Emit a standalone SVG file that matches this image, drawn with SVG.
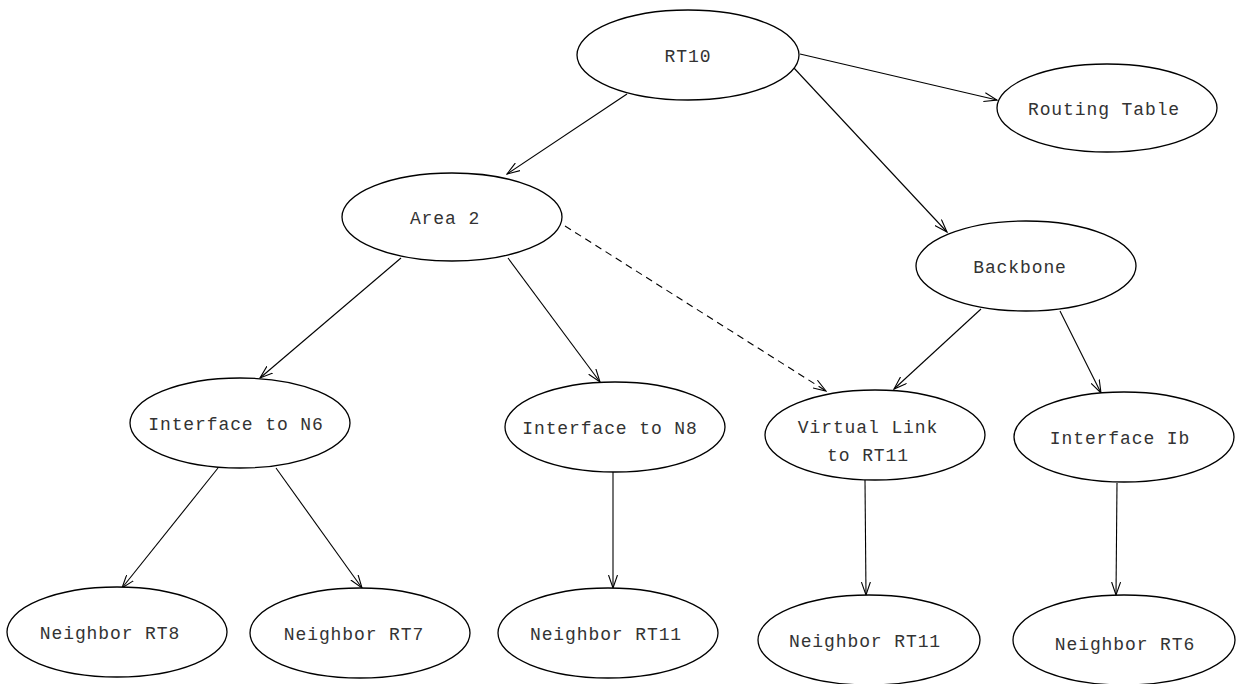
<svg xmlns="http://www.w3.org/2000/svg" width="1236" height="684" viewBox="0 0 1236 684">
<style>
.n ellipse{fill:#fff;stroke:#000;stroke-width:1.3}
.n text{font-family:"Liberation Mono","Courier New",monospace;font-size:18px;letter-spacing:0.9px;fill:#333;text-anchor:middle}
.e line{stroke:#000;stroke-width:1.1;fill:none;marker-end:url(#a)}
.e .d{stroke-dasharray:7,5}
</style>
<defs>
<marker id="a" markerWidth="14" markerHeight="10" refX="13" refY="5" orient="auto" markerUnits="userSpaceOnUse">
<path d="M0,0.5 L13,5 L0,9.5" fill="none" stroke="#000" stroke-width="1.1"/>
</marker>
</defs>
<rect width="1236" height="684" fill="#fff"/>
<g id="edges" class="e">
<line x1="627" y1="94" x2="507" y2="174"/>
<line x1="800" y1="54" x2="997" y2="100"/>
<line x1="793" y1="67" x2="947" y2="232"/>
<line x1="401" y1="258" x2="260" y2="378"/>
<line x1="508" y1="258" x2="600" y2="382"/>
<line class="d" x1="565" y1="226" x2="826" y2="391"/>
<line x1="981" y1="309" x2="894" y2="389"/>
<line x1="1060" y1="311" x2="1101" y2="393"/>
<line x1="218" y1="468" x2="122" y2="588"/>
<line x1="276" y1="468" x2="362" y2="588"/>
<line x1="613" y1="472" x2="613" y2="588"/>
<line x1="865" y1="480" x2="866" y2="595"/>
<line x1="1117" y1="483" x2="1116" y2="595"/>
</g>
<g id="rt10" class="n"><ellipse cx="688" cy="55" rx="111" ry="45"/><text x="688" y="62">RT10</text></g>
<g id="routing-table" class="n"><ellipse cx="1107" cy="108" rx="110" ry="44"/><text x="1104" y="115">Routing Table</text></g>
<g id="area2" class="n"><ellipse cx="452" cy="217" rx="110" ry="44"/><text x="445" y="224">Area 2</text></g>
<g id="backbone" class="n"><ellipse cx="1026" cy="266" rx="110" ry="45"/><text x="1020" y="273">Backbone</text></g>
<g id="if-n6" class="n"><ellipse cx="240" cy="423" rx="110" ry="45"/><text x="236" y="430">Interface to N6</text></g>
<g id="if-n8" class="n"><ellipse cx="615" cy="427" rx="110" ry="45"/><text x="610" y="434">Interface to N8</text></g>
<g id="vlink" class="n"><ellipse cx="875" cy="435" rx="110" ry="45"/><text x="868" y="433">Virtual Link</text><text x="868" y="461">to RT11</text></g>
<g id="if-ib" class="n"><ellipse cx="1124" cy="437" rx="110" ry="45"/><text x="1120" y="444">Interface Ib</text></g>
<g id="rt8" class="n"><ellipse cx="117" cy="632" rx="110" ry="45"/><text x="110" y="639">Neighbor RT8</text></g>
<g id="rt7" class="n"><ellipse cx="360" cy="633" rx="110" ry="45"/><text x="354" y="640">Neighbor RT7</text></g>
<g id="rt11a" class="n"><ellipse cx="608" cy="633" rx="110" ry="45"/><text x="606" y="640">Neighbor RT11</text></g>
<g id="rt11b" class="n"><ellipse cx="869" cy="640" rx="111" ry="45"/><text x="865" y="647">Neighbor RT11</text></g>
<g id="rt6" class="n"><ellipse cx="1124" cy="640" rx="111" ry="45"/><text x="1125" y="650">Neighbor RT6</text></g>
</svg>
